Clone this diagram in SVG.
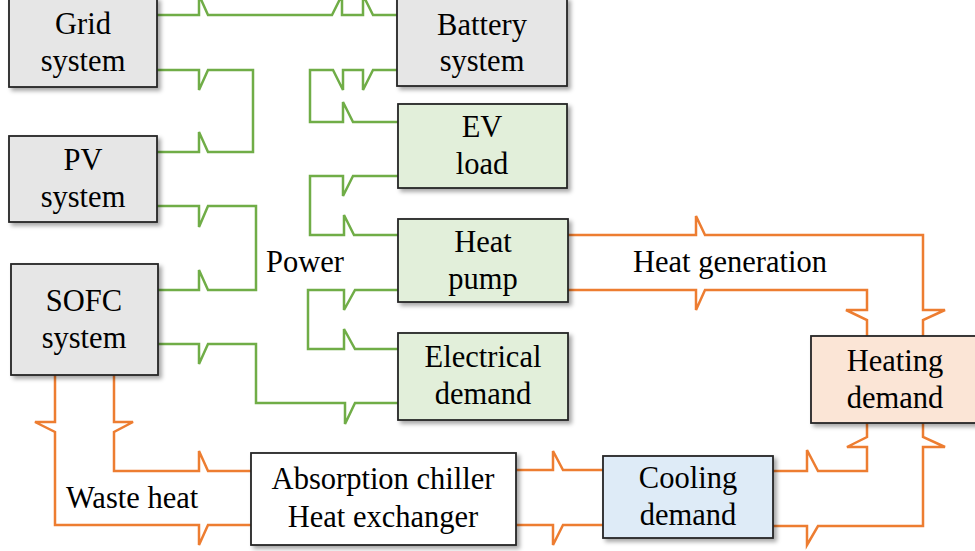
<svg xmlns="http://www.w3.org/2000/svg" width="975" height="551" viewBox="0 0 975 551">
<defs>
<filter id="sh" x="-10%" y="-10%" width="130%" height="140%">
<feDropShadow dx="3" dy="3" stdDeviation="2" flood-color="#000" flood-opacity="0.35"/>
</filter>
</defs>
<style>
.g{fill:none;stroke:#70ad47;stroke-width:2.5;stroke-linejoin:miter}
.o{fill:none;stroke:#ed7d31;stroke-width:2.5;stroke-linejoin:miter}
.b{stroke:#262626;stroke-width:1.8;filter:url(#sh)}
.grey{fill:#e6e6e6}.green{fill:#e2efda}.peach{fill:#fbe5d6}.blue{fill:#deebf7}.white{fill:#ffffff}
text{font-family:"Liberation Serif","Times New Roman",serif;font-size:30.5px;fill:#000}
.c{text-anchor:middle}
</style>
<rect width="975" height="551" fill="#ffffff"/>
<g id="connectors">
<path class="g" d="M157,15 H199 V-5 L208,15 H332 L342,-5 V15 H363 V-5 L373,15 H397"/>
<path class="g" d="M157,70 H199 V90 L208,70 H253 V152 H208 L199,132 V152 H157"/>
<path class="g" d="M157,206 H199 V227 L208,206 H256 V290 H208 L199,270 V290 H158"/>
<path class="g" d="M158,344 H199 V364 L208,344 H256 V403 H345 V424 L355,403 H398"/>
<path class="g" d="M397,70 H373 L363,90 V70 H343 V90 L333,70 H310 V122 H343 V102 L353,122 H398"/>
<path class="g" d="M398,176 H353 L343,196 V176 H310 V235 H344 V215 L354,235 H398"/>
<path class="g" d="M398,290 H355 L344,310 V290 H308 V349 H344 V329 L355,349 H398"/>
<path class="o" d="M568,235 H696 V216 L705,235 H923 V310 H945 L923,320 V336"/>
<path class="o" d="M568,290 H696 V310 L705,290 H867 V310 H846 L867,320 V336"/>
<path class="o" d="M773,471 H807 V450 L818,471 H867 V447 H847 L867,437 V423"/>
<path class="o" d="M773,526 H807 V545 L818,526 H923 V447 H945 L923,437 V423"/>
<path class="o" d="M516,470 H553 V451 L563,470 H603"/>
<path class="o" d="M516,525 H553 V545 L563,525 H603"/>
<path class="o" d="M55,375 V422 H35 L55,432 V525 H199 V545 L208,525 H251"/>
<path class="o" d="M114,375 V422 H133 L114,432 V471 H199 V451 L208,471 H251"/>
</g>
<g id="grid"><rect class="b grey" x="9" y="-2" width="148" height="89"/><text class="c" x="83" y="34">Grid</text><text class="c" x="83" y="71">system</text></g>
<g id="pv"><rect class="b grey" x="9" y="136" width="148" height="86"/><text class="c" x="83" y="170">PV</text><text class="c" x="83" y="207">system</text></g>
<g id="sofc"><rect class="b grey" x="11" y="264" width="147" height="111"/><text class="c" x="84" y="311">SOFC</text><text class="c" x="84" y="348">system</text></g>
<g id="battery"><rect class="b grey" x="397" y="-2" width="170" height="88"/><text class="c" x="482" y="35">Battery</text><text class="c" x="482" y="71">system</text></g>
<g id="ev"><rect class="b green" x="398" y="104" width="169" height="84"/><text class="c" x="482" y="137">EV</text><text class="c" x="482" y="174">load</text></g>
<g id="heatpump"><rect class="b green" x="398" y="219" width="170" height="83"/><text class="c" x="483" y="252">Heat</text><text class="c" x="483" y="289">pump</text></g>
<g id="electrical"><rect class="b green" x="398" y="333" width="170" height="87"/><text class="c" x="483" y="367">Electrical</text><text class="c" x="483" y="404">demand</text></g>
<g id="heating"><rect class="b peach" x="811" y="336" width="170" height="87"/><text class="c" x="895" y="371">Heating</text><text class="c" x="895" y="408">demand</text></g>
<g id="cooling"><rect class="b blue" x="603" y="456" width="170" height="82"/><text class="c" x="688" y="488">Cooling</text><text class="c" x="688" y="525">demand</text></g>
<g id="chiller"><rect class="b white" x="251" y="453" width="265" height="92"/><text class="c" x="383" y="489">Absorption chiller</text><text class="c" x="383" y="527">Heat exchanger</text></g>
<g id="labels"><text x="266" y="272">Power</text><text x="633" y="272">Heat generation</text><text x="66" y="508">Waste heat</text></g>
</svg>
